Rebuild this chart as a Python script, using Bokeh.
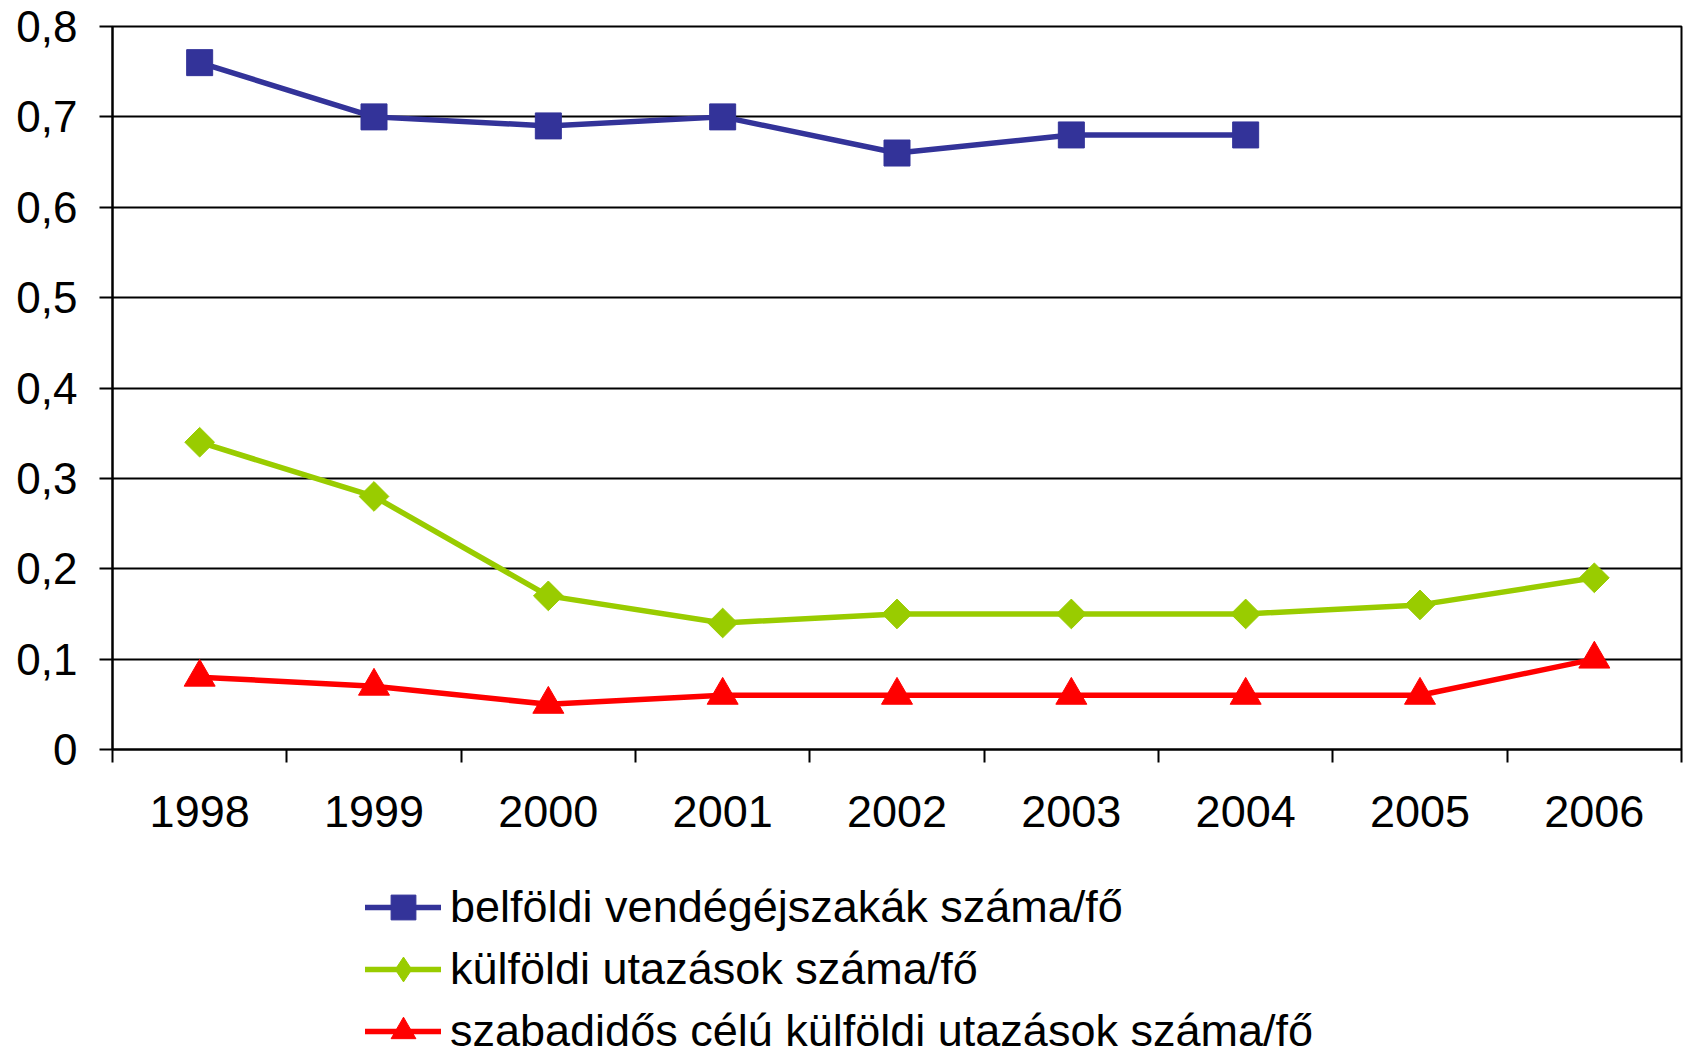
import numpy as np
from bokeh.plotting import figure
from bokeh.layouts import column
from bokeh.models import FixedTicker, Legend, LegendItem, Range1d
from bokeh.embed import file_html
from bokeh.resources import INLINE

# ---- data ----
years = [1998, 1999, 2000, 2001, 2002, 2003, 2004, 2005, 2006]
years_belfoldi = [1998, 1999, 2000, 2001, 2002, 2003, 2004]
belfoldi = [0.76, 0.70, 0.69, 0.70, 0.66, 0.68, 0.68]
kulfoldi = [0.34, 0.28, 0.17, 0.14, 0.15, 0.15, 0.15, 0.16, 0.19]
szabadidos = [0.08, 0.07, 0.05, 0.06, 0.06, 0.06, 0.06, 0.06, 0.10]
y_ticks = [0, 0.1, 0.2, 0.3, 0.4, 0.5, 0.6, 0.7, 0.8]
y_tick_labels = ["0", "0,1", "0,2", "0,3", "0,4", "0,5", "0,6", "0,7", "0,8"]
series_labels = [
    "belföldi vendégéjszakák száma/fő",
    "külföldi utazások száma/fő",
    "szabadidős célú külföldi utazások száma/fő",
]
colors = ["#333399", "#99CC00", "#FF0000"]

FONT = "Liberation Sans"
W = 1689
H_MAIN = 852
H_LEG = 205


def add_series(fig, legend_strip=False):
    l1 = fig.line(years_belfoldi, belfoldi, line_color=colors[0], line_width=5.5, line_cap="round")
    s1 = fig.scatter(years_belfoldi, belfoldi, marker="square", size=26,
                     fill_color=colors[0], line_color=colors[0])
    l2 = fig.line(years, kulfoldi, line_color=colors[1], line_width=5.5, line_cap="round")
    if legend_strip:
        s2 = fig.scatter(years, kulfoldi, marker="diamond", size=30,
                         fill_color=colors[1], line_color=colors[1])
    else:
        s2 = fig.scatter(years, kulfoldi, marker="square", angle=np.pi / 4, size=21,
                         fill_color=colors[1], line_color=colors[1])
    l3 = fig.line(years, szabadidos, line_color=colors[2], line_width=5.5, line_cap="round")
    s3 = fig.scatter(years, szabadidos, marker="triangle", size=31,
                     fill_color=colors[2], line_color=colors[2])
    return [(l1, s1), (l2, s2), (l3, s3)]


# ---------- main chart ----------
p = figure(
    width=W, height=H_MAIN, output_backend="svg", toolbar_location=None,
    title=None,
    x_range=Range1d(1997.5, 2006.5), y_range=Range1d(0, 0.8),
    min_border_left=112, min_border_top=26, min_border_right=8, min_border_bottom=H_MAIN - 749,
)
p.outline_line_color = "black"
p.outline_line_width = 2

p.xgrid.visible = False
p.ygrid.ticker = FixedTicker(ticks=y_ticks)
p.ygrid.grid_line_color = "black"
p.ygrid.grid_line_width = 2

boundaries = [y - 0.5 for y in years] + [years[-1] + 0.5]
p.xaxis.ticker = FixedTicker(ticks=years, minor_ticks=boundaries)
p.xaxis.major_label_overrides = {y: str(y) for y in years}
p.xaxis.major_tick_out = 0
p.xaxis.major_tick_in = 0
p.xaxis.minor_tick_out = 13
p.xaxis.minor_tick_in = 0
p.xaxis.minor_tick_line_color = "black"
p.xaxis.minor_tick_line_width = 2
p.xaxis.axis_line_color = "black"
p.xaxis.axis_line_width = 2
p.xaxis.major_label_text_font = FONT
p.xaxis.major_label_text_font_size = "45px"
p.xaxis.major_label_text_color = "black"
p.xaxis.major_label_standoff = 33

p.yaxis.ticker = FixedTicker(ticks=y_ticks)
p.yaxis.major_label_overrides = {t: l for t, l in zip(y_ticks, y_tick_labels)}
p.yaxis.major_tick_out = 13
p.yaxis.major_tick_in = 0
p.yaxis.minor_tick_line_color = None
p.yaxis.major_tick_line_color = "black"
p.yaxis.major_tick_line_width = 2
p.yaxis.axis_line_color = "black"
p.yaxis.axis_line_width = 2
p.yaxis.major_label_text_font = FONT
p.yaxis.major_label_text_font_size = "44px"
p.yaxis.major_label_text_color = "black"
p.yaxis.major_label_standoff = 22

add_series(p)

# ---------- legend strip (same series, kept out of view; only its legend shows) ----------
p2 = figure(
    width=W, height=H_LEG, output_backend="svg", toolbar_location=None,
    title=None, x_range=Range1d(0, 1), y_range=Range1d(100, 101),
    min_border_left=0, min_border_right=0, min_border_top=0, min_border_bottom=0,
)
p2.axis.visible = False
p2.grid.visible = False
p2.outline_line_color = None
rs = add_series(p2, legend_strip=True)

GH = 62
items = [LegendItem(label=lab, renderers=list(r)) for lab, r in zip(series_labels, rs)]
first_center = 907 - H_MAIN
legend_h = 3 * GH
top = first_center - GH / 2
legend = Legend(
    items=items, location=(253, H_LEG - top - legend_h), orientation="vertical",
    glyph_width=76, glyph_height=GH, spacing=0, label_standoff=9,
    padding=0, margin=0, border_line_alpha=0, background_fill_alpha=0,
    label_text_font=FONT, label_text_font_size="45px", label_height=50,
    label_text_color="black",
)
p2.add_layout(legend)

open("out.html", "w").write(file_html(column(p, p2, spacing=0), INLINE))
